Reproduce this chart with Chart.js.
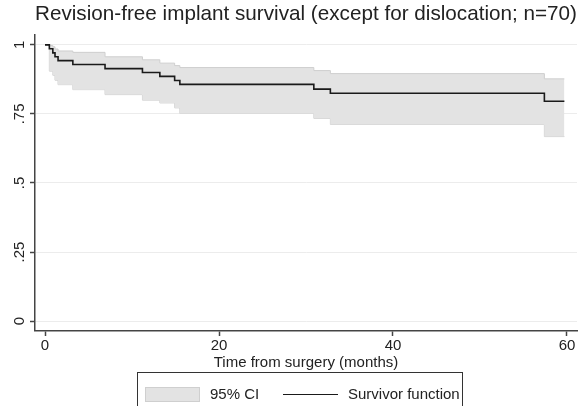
<!DOCTYPE html>
<html>
<head>
<meta charset="utf-8">
<script src="https://cdn.jsdelivr.net/npm/chart.js@4/dist/chart.umd.min.js"></script>
<style>
  html, body { margin: 0; padding: 0; background: #fff; }
  body { position: relative; width: 583px; height: 406px; overflow: hidden; font-family: "Liberation Sans", Arial, sans-serif; }
  #km { position: absolute; left: 0; top: 0; }
  .legend { position: absolute; left: 137px; top: 372px; width: 326px; height: 44px; border: 1.5px solid #333; box-sizing: border-box; color: #222; font-size: 15px; }
  .legend .swatch { position: absolute; left: 7px; top: 14px; width: 55px; height: 15px; background: #e3e3e3; border: 1px solid #cfcfcf; box-sizing: border-box; }
  .legend .lab { position: absolute; top: 12px; line-height: 18px; white-space: nowrap; }
  .legend .ln { position: absolute; left: 145px; top: 21px; width: 55px; height: 0; border-top: 1.6px solid #1a1a1a; }
</style>
</head>
<body>
<canvas id="km" width="583" height="406"></canvas>
<div class="legend">
  <div class="swatch"></div>
  <div class="lab" style="left:72px">95% CI</div>
  <div class="ln"></div>
  <div class="lab" style="left:210px">Survivor function</div>
</div>
<script>
// Kaplan-Meier estimate (time in months)
var months   = [0, 0.5, 0.9, 1.15, 1.5, 3.2, 6.9, 11.2, 13.2, 14.9, 15.5, 30.9, 32.8, 57.4, 59.7],
    survival = [1, 0.986, 0.971, 0.957, 0.943, 0.929, 0.914, 0.9, 0.886, 0.871, 0.857, 0.84, 0.825, 0.796, 0.796],
    ciUpper  = [1, 0.998, 0.993, 0.985, 0.978, 0.973, 0.957, 0.946, 0.934, 0.925, 0.918, 0.907, 0.896, 0.877, 0.877],
    ciLower  = [1, 0.905, 0.89, 0.872, 0.856, 0.838, 0.82, 0.8, 0.79, 0.772, 0.752, 0.734, 0.712, 0.668, 0.668],
    xTicks = [0, 20, 40, 60],
    yTicks = [0, 0.25, 0.5, 0.75, 1],
    yTickLabels = ["0", ".25", ".5", ".75", "1"],
    chartTitle = "Revision-free implant survival (except for dislocation; n=70)",
    xTitle = "Time from surgery (months)";

var ink = "#222",
    axisColor = "#444",
    bandFill = "#e3e3e3",
    bandEdge = "#cfcfcf",
    fontFamily = "'Liberation Sans', Arial, sans-serif",
    font15 = { family: fontFamily, size: 15 };

function pts(ys) {
    return months.map(function (t, i) { return { x: t, y: ys[i] } })
}

new Chart(document.getElementById("km").getContext("2d"), {
    type: "line",
    data: {
        datasets: [ {
            label      : "Survivor function",
            data       : pts(survival),
            stepped    : true,
            borderColor: "#1a1a1a",
            borderWidth: 1.6,
            pointRadius: 0,
            fill       : false
        }, {
            label          : "95% CI upper",
            data           : pts(ciUpper),
            stepped        : true,
            borderColor    : bandEdge,
            borderWidth    : 1,
            backgroundColor: bandFill,
            pointRadius    : 0,
            fill           : "+1"
        }, {
            label      : "95% CI lower",
            data       : pts(ciLower),
            stepped    : true,
            borderColor: bandEdge,
            borderWidth: 1,
            pointRadius: 0,
            fill       : false
        } ]
    },
    options: {
        responsive: false,
        animation : false,
        devicePixelRatio: 1,
        layout: { padding: { left: 0, right: 6, top: 0, bottom: 34 } },
        plugins: {
            legend : { display: false },
            tooltip: { enabled: false },
            title  : {
                display : true,
                fullSize: false,
                text    : chartTitle,
                align   : "start",
                color   : ink,
                font    : { family: fontFamily, size: 20.8, weight: "normal" },
                padding : { top: 1.5, bottom: 8.5 }
            }
        },
        scales: {
            x: {
                type: "linear",
                min : -1.15,
                max : 61.15,
                afterBuildTicks: function (s) { s.ticks = xTicks.map(function (v) { return { value: v } }) },
                afterFit: function (s) { s.height = 41 },
                grid  : { display: true, drawOnChartArea: false, tickLength: 5, tickColor: axisColor, tickWidth: 1.5 },
                border: { color: axisColor, width: 1.5 },
                ticks : { color: ink, font: font15, padding: 1, maxRotation: 0 },
                title : { display: true, text: xTitle, color: ink, font: font15, padding: 0 }
            },
            y: {
                type: "linear",
                min : -0.036,
                max : 1.036,
                afterBuildTicks: function (s) { s.ticks = yTicks.map(function (v) { return { value: v } }) },
                afterFit: function (s) { s.width = 35 },
                grid  : { color: "#ececec", lineWidth: 1, tickLength: 5, tickColor: axisColor, tickWidth: 1.5 },
                border: { color: axisColor, width: 1.5 },
                ticks : {
                    color: ink, font: font15, padding: 0,
                    minRotation: 90, maxRotation: 90, crossAlign: "center",
                    callback: function (v) { return yTickLabels[yTicks.indexOf(v)] }
                }
            }
        }
    }
});
</script>
</body>
</html>
